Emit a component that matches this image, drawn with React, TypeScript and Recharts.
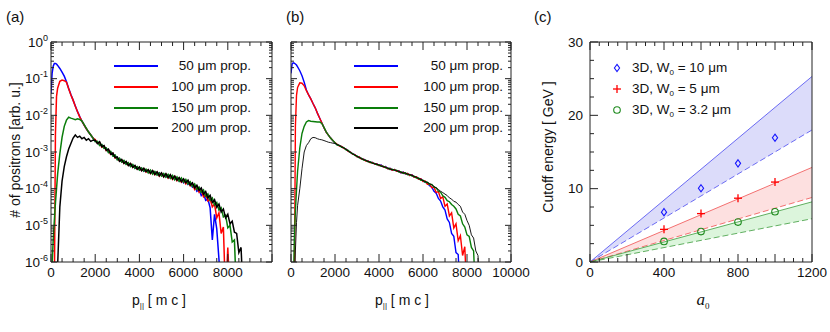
import React from 'react';
import { LineChart, Line, XAxis, YAxis, ComposedChart, Area, Scatter } from 'recharts';

const FONT = '"Liberation Sans", Arial, Helvetica, sans-serif';
const AXIS = '#222';

// momentum grid p|| [m c]
const pEarly = [0, 50, 100, 150, 200, 250, 300, 400, 500, 600, 700, 800, 900, 1000, 1100, 1200, 1300, 1400, 1500, 1600, 1700, 1800, 1900];
const pTail = [
  2000, 2100, 2200, 2300, 2400, 2500, 2600, 2700, 2800, 2900,
  3000, 3100, 3200, 3300, 3400, 3500, 3600, 3700, 3800, 3900,
  4000, 4100, 4200, 4300, 4400, 4500, 4600, 4700, 4800, 4900,
  5000, 5100, 5200, 5300, 5400, 5500, 5600, 5700, 5800, 5900,
  6000, 6100, 6200, 6300, 6400, 6500, 6600, 6700, 6800, 6900,
  7000, 7100, 7200, 7300, 7400, 7500, 7600, 7700, 7800, 7900,
  8000, 8100, 8200, 8300, 8400, 8500, 8600, 8700, 8800,
];

// panel (a)
const blueAEarly = [0.04, 0.14, 0.22, 0.26, 0.26, 0.25, 0.23, 0.19, 0.15, 0.117, 0.083, 0.054, 0.037, 0.026, 0.018, 0.0126, 0.0092, 0.0069, 0.0054, 0.0043, 0.0035, 0.0029, 0.0024];
const redAEarly = [null, null, null, 1e-7, 0.003, 0.033, 0.055, 0.085, 0.092, 0.088, 0.08, 0.053, 0.036, 0.026, 0.0178, 0.0125, 0.0091, 0.0069, 0.0054, 0.0043, 0.0035, 0.0029, 0.0024];
const greenAEarly = [null, 8e-7, 4e-6, 1.3e-5, 4e-5, 1e-4, 2.5e-4, 9e-4, 2.5e-3, 5e-3, 7.4e-3, 8.9e-3, 8.4e-3, 8.0e-3, 7.6e-3, 8.0e-3, 7.7e-3, 7.0e-3, 5.6e-3, 4.4e-3, 3.5e-3, 2.9e-3, 2.4e-3];
const blackAEarly = [null, null, null, null, null, null, 8e-7, 3.2e-5, 1.6e-4, 4e-4, 7.4e-4, 1.2e-3, 1.7e-3, 2.4e-3, 2.9e-3, 2.5e-3, 2.7e-3, 2.3e-3, 2.5e-3, 2.1e-3, 2.3e-3, 1.95e-3, 2.1e-3];

const blueATail = [
  2.0e-3, 1.85e-3, 1.6e-3, 1.55e-3, 1.3e-3, 1.25e-3, 1.0e-3, 1.0e-3, 8.0e-4, 8.0e-4,
  6.3e-4, 6.5e-4, 5.4e-4, 5.7e-4, 4.7e-4, 4.9e-4, 4.1e-4, 4.4e-4, 3.6e-4, 3.9e-4,
  3.3e-4, 3.6e-4, 3.0e-4, 3.3e-4, 2.8e-4, 3.1e-4, 2.6e-4, 2.9e-4, 2.4e-4, 2.7e-4,
  2.25e-4, 2.5e-4, 2.1e-4, 2.35e-4, 1.95e-4, 2.2e-4, 1.8e-4, 2.0e-4, 1.6e-4, 1.8e-4,
  1.45e-4, 1.65e-4, 1.3e-4, 1.45e-4, 1.1e-4, 1.2e-4, 8.5e-5, 9.5e-5, 6.5e-5, 7.5e-5,
  4.8e-5, 5.2e-5, 3.0e-5, 4e-6, 2.0e-5, 8e-6, 1.2e-6, 1e-7, null, null,
  null, null, null, null, null, null, null, null, null,
];
const redATail = [
  2.2e-3, 1.75e-3, 1.8e-3, 1.35e-3, 1.45e-3, 1.1e-3, 1.15e-3, 8.6e-4, 9.2e-4, 6.9e-4,
  7.0e-4, 5.7e-4, 6.1e-4, 4.9e-4, 5.4e-4, 4.3e-4, 4.8e-4, 3.8e-4, 4.2e-4, 3.4e-4,
  3.8e-4, 3.1e-4, 3.5e-4, 2.85e-4, 3.25e-4, 2.6e-4, 3.05e-4, 2.4e-4, 2.85e-4, 2.2e-4,
  2.65e-4, 2.1e-4, 2.5e-4, 1.95e-4, 2.35e-4, 1.8e-4, 2.15e-4, 1.65e-4, 1.95e-4, 1.5e-4,
  1.75e-4, 1.35e-4, 1.6e-4, 1.2e-4, 1.35e-4, 9.5e-5, 1.15e-4, 8.0e-5, 9.0e-5, 6.0e-5,
  7.0e-5, 4.6e-5, 5.2e-5, 3.2e-5, 3.8e-5, 1.6e-5, 2.2e-5, 6e-6, 9e-6, 1e-7,
  2.5e-6, 1e-7, null, null, null, null, null, null, null,
];
const greenATail = [
  1.9e-3, 1.95e-3, 1.5e-3, 1.6e-3, 1.25e-3, 1.3e-3, 9.6e-4, 1.05e-3, 7.8e-4, 8.3e-4,
  6.1e-4, 6.8e-4, 5.3e-4, 5.9e-4, 4.6e-4, 5.1e-4, 4.0e-4, 4.6e-4, 3.6e-4, 4.0e-4,
  3.2e-4, 3.7e-4, 3.0e-4, 3.4e-4, 2.7e-4, 3.2e-4, 2.5e-4, 2.95e-4, 2.35e-4, 2.7e-4,
  2.2e-4, 2.6e-4, 2.05e-4, 2.45e-4, 1.9e-4, 2.3e-4, 1.75e-4, 2.1e-4, 1.6e-4, 1.95e-4,
  1.5e-4, 1.8e-4, 1.35e-4, 1.55e-4, 1.15e-4, 1.35e-4, 9.6e-5, 1.1e-4, 7.9e-5, 9.2e-5,
  6.2e-5, 7.2e-5, 4.8e-5, 5.6e-5, 3.6e-5, 4.2e-5, 2.6e-5, 3.0e-5, 1.7e-5, 1.9e-5,
  8.5e-6, 1.0e-5, 3.5e-6, 4.0e-6, 1e-7, null, null, null, null,
];
const blackATail = [
  2.1e-3, 1.7e-3, 1.9e-3, 1.4e-3, 1.5e-3, 1.1e-3, 1.2e-3, 8.8e-4, 9.4e-4, 7.0e-4,
  7.3e-4, 5.6e-4, 6.3e-4, 4.9e-4, 5.5e-4, 4.3e-4, 4.9e-4, 3.8e-4, 4.3e-4, 3.4e-4,
  3.9e-4, 3.1e-4, 3.6e-4, 2.9e-4, 3.3e-4, 2.6e-4, 3.1e-4, 2.45e-4, 2.9e-4, 2.25e-4,
  2.7e-4, 2.1e-4, 2.55e-4, 2.0e-4, 2.4e-4, 1.85e-4, 2.2e-4, 1.7e-4, 2.0e-4, 1.55e-4,
  1.85e-4, 1.45e-4, 1.7e-4, 1.25e-4, 1.45e-4, 1.05e-4, 1.25e-4, 9.0e-5, 1.05e-4, 7.0e-5,
  8.3e-5, 5.6e-5, 6.6e-5, 4.2e-5, 5.0e-5, 3.1e-5, 3.8e-5, 2.3e-5, 2.8e-5, 1.6e-5,
  2.0e-5, 1.1e-5, 1.3e-5, 6.5e-6, 6.0e-6, 1.8e-6, 2.5e-6, 1e-7, null,
];

// panel (b)
const blueBEarly = [0.14, 0.25, 0.27, 0.265, 0.25, 0.235, 0.21, 0.165, 0.12, 0.08, 0.049, 0.036, 0.028, 0.021, 0.016, 0.0115, 0.0085, 0.0063, 0.0046, 0.0035, 0.0029, 0.0024, 0.00205];
const redBEarly = [null, null, null, 1e-7, 0.005, 0.035, 0.058, 0.077, 0.075, 0.064, 0.047, 0.036, 0.028, 0.021, 0.016, 0.0115, 0.0085, 0.0063, 0.0046, 0.0035, 0.0029, 0.0024, 0.00205];
const greenBEarly = [null, null, 1e-7, 4e-6, 2.5e-5, 9e-5, 3e-4, 1.3e-3, 3.2e-3, 5.0e-3, 6.6e-3, 7.2e-3, 6.9e-3, 6.8e-3, 6.7e-3, 6.6e-3, 6.6e-3, 6.0e-3, 4.7e-3, 3.55e-3, 2.9e-3, 2.4e-3, 2.05e-3];
const blackBEarly = [null, null, null, 1e-7, 2e-6, 1.2e-5, 3.5e-5, 1e-4, 3.5e-4, 1.0e-3, 1.5e-3, 1.8e-3, 2.3e-3, 2.5e-3, 2.45e-3, 2.3e-3, 2.2e-3, 2.15e-3, 2.05e-3, 1.95e-3, 1.85e-3, 1.8e-3, 1.74e-3];

const blueBTail = [
  1.76e-3, 1.6e-3, 1.5e-3, 1.4e-3, 1.28e-3, 1.2e-3, 1.06e-3, 1.0e-3, 8.8e-4, 8.5e-4,
  7.5e-4, 7.3e-4, 6.5e-4, 6.4e-4, 5.8e-4, 5.7e-4, 5.2e-4, 5.2e-4, 4.7e-4, 4.8e-4,
  4.3e-4, 4.4e-4, 3.9e-4, 4.0e-4, 3.5e-4, 3.6e-4, 3.2e-4, 3.35e-4, 3.0e-4, 3.1e-4,
  2.7e-4, 2.85e-4, 2.5e-4, 2.6e-4, 2.3e-4, 2.4e-4, 2.05e-4, 2.1e-4, 1.8e-4, 1.85e-4,
  1.6e-4, 1.5e-4, 1.4e-4, 1.2e-4, 1.1e-4, 8.5e-5, 7.5e-5, 5.4e-5, 4.6e-5, 3.2e-5,
  2.6e-5, 1.5e-5, 1.2e-5, 6e-6, 5e-6, 1.8e-6, 1.6e-6, 1e-7, null, null,
  null, null, null, null, null, null, null, null, null,
];
const redBTail = [
  1.8e-3, 1.62e-3, 1.46e-3, 1.42e-3, 1.26e-3, 1.2e-3, 1.04e-3, 1.0e-3, 8.7e-4, 8.5e-4,
  7.4e-4, 7.3e-4, 6.4e-4, 6.4e-4, 5.7e-4, 5.7e-4, 5.1e-4, 5.2e-4, 4.7e-4, 4.75e-4,
  4.3e-4, 4.3e-4, 3.9e-4, 3.9e-4, 3.5e-4, 3.55e-4, 3.2e-4, 3.35e-4, 3.0e-4, 3.05e-4,
  2.7e-4, 2.8e-4, 2.55e-4, 2.6e-4, 2.3e-4, 2.35e-4, 2.05e-4, 2.1e-4, 1.8e-4, 1.85e-4,
  1.58e-4, 1.62e-4, 1.32e-4, 1.34e-4, 1.06e-4, 1.1e-4, 7.8e-5, 8.4e-5, 5.4e-5, 6.0e-5,
  3.3e-5, 3.8e-5, 1.8e-5, 2.2e-5, 8.5e-6, 1.1e-5, 3.8e-6, 5.2e-6, 1.5e-6, 2.6e-6,
  1e-7, null, null, null, null, null, null, null, null,
];
const greenBTail = [
  1.78e-3, 1.55e-3, 1.52e-3, 1.35e-3, 1.32e-3, 1.15e-3, 1.1e-3, 9.6e-4, 9.1e-4, 8.1e-4,
  7.8e-4, 6.9e-4, 6.8e-4, 6.0e-4, 6.0e-4, 5.4e-4, 5.4e-4, 4.9e-4, 4.9e-4, 4.5e-4,
  4.5e-4, 4.05e-4, 4.1e-4, 3.7e-4, 3.7e-4, 3.35e-4, 3.4e-4, 3.15e-4, 3.2e-4, 2.85e-4,
  2.9e-4, 2.6e-4, 2.7e-4, 2.4e-4, 2.45e-4, 2.2e-4, 2.2e-4, 1.95e-4, 1.95e-4, 1.7e-4,
  1.7e-4, 1.5e-4, 1.5e-4, 1.3e-4, 1.3e-4, 1.1e-4, 1.05e-4, 8.6e-5, 8.0e-5, 6.4e-5,
  5.8e-5, 4.7e-5, 4.4e-5, 3.7e-5, 3.3e-5, 2.8e-5, 2.0e-5, 1.8e-5, 1.1e-5, 9e-6,
  5.5e-6, 5.0e-6, 2.5e-6, 2.0e-6, 1e-7, null, null, null, null,
];
const blackBTail = [
  1.72e-3, 1.6e-3, 1.5e-3, 1.38e-3, 1.3e-3, 1.18e-3, 1.07e-3, 9.8e-4, 8.9e-4, 8.3e-4,
  7.6e-4, 7.1e-4, 6.6e-4, 6.2e-4, 5.9e-4, 5.5e-4, 5.25e-4, 5.0e-4, 4.8e-4, 4.6e-4,
  4.4e-4, 4.15e-4, 4.0e-4, 3.8e-4, 3.6e-4, 3.45e-4, 3.3e-4, 3.25e-4, 3.1e-4, 2.95e-4,
  2.8e-4, 2.7e-4, 2.65e-4, 2.5e-4, 2.4e-4, 2.3e-4, 2.15e-4, 2.05e-4, 1.9e-4, 1.8e-4,
  1.66e-4, 1.58e-4, 1.48e-4, 1.38e-4, 1.28e-4, 1.15e-4, 1.05e-4, 9.5e-5, 8.5e-5, 7.8e-5,
  7.1e-5, 6.5e-5, 5.6e-5, 5.2e-5, 4.5e-5, 4.3e-5, 3.7e-5, 3.3e-5, 2.3e-5, 2.0e-5,
  1.35e-5, 1.0e-5, 5.5e-6, 4.5e-6, 2.0e-6, 1.5e-6, 1e-7, null, null,
];

const legendLabels = ['50 μm prop.', '100 μm prop.', '150 μm prop.', '200 μm prop.'];
const seriesColors = ['#0000ff', '#ff0000', '#0a7d0a', '#000000'];

// panel (c)
const a0Ends = [0, 1200];
const hi10 = [0, 25.3];
const lo10 = [0, 18.0];
const hi5 = [0, 12.9];
const lo5 = [0, 8.8];
const hi32 = [0, 8.2];
const lo32 = [0, 5.9];
const a0Points = [400, 600, 800, 1000];
const cut10 = [6.8, 10.05, 13.45, 16.95];
const cut5 = [4.45, 6.6, 8.7, 10.9];
const cut32 = [2.8, 4.15, 5.45, 6.85];

// ticks
const pTicks = [0, 500, 1000, 1500, 2000, 2500, 3000, 3500, 4000, 4500, 5000, 5500, 6000, 6500, 7000, 7500, 8000, 8500, 9000, 9500, 10000];
const pLabelsA = [0, 2000, 4000, 6000, 8000];
const pLabelsB = [0, 2000, 4000, 6000, 8000, 10000];
const decades = [1e-6, 1e-5, 1e-4, 1e-3, 1e-2, 1e-1, 1];
const logTicks = decades.flatMap((d, i) =>
  i === decades.length - 1 ? [d] : [1, 2, 3, 4, 5, 6, 7, 8, 9].map((m) => m * d)
);
const a0Ticks = [0, 50, 100, 150, 200, 250, 300, 350, 400, 450, 500, 550, 600, 650, 700, 750, 800, 850, 900, 950, 1000, 1050, 1100, 1150, 1200];
const a0Labels = [0, 400, 800, 1200];
const eTicks = [0, 2.5, 5, 7.5, 10, 12.5, 15, 17.5, 20, 22.5, 25, 27.5, 30];
const eLabels = [0, 10, 20, 30];

const toRows = (early: (number | null)[], tail: (number | null)[]) =>
  [...pEarly, ...pTail].map((p, i) => ({
    p,
    v: i < pEarly.length ? early[i] : tail[i - pEarly.length],
  }));

const isDecade = (v: number) => Math.abs(Math.log10(v) - Math.round(Math.log10(v))) < 1e-6;

type Side = 'bottom' | 'top' | 'left' | 'right';

function axisTick(
  side: Side,
  isMajor: (v: number) => boolean,
  major: number,
  minor: number,
  label?: (v: number) => React.ReactNode,
  gap = 3
) {
  return (props: any) => {
    const { x, y, payload } = props;
    const v = payload.value;
    const len = isMajor(v) ? major : minor;
    let l = { x1: x, y1: y, x2: x, y2: y };
    if (side === 'bottom') l = { x1: x, y1: y, x2: x, y2: y - len };
    if (side === 'top') l = { x1: x, y1: y, x2: x, y2: y + len };
    if (side === 'left') l = { x1: x, y1: y, x2: x + len, y2: y };
    if (side === 'right') l = { x1: x, y1: y, x2: x - len, y2: y };
    const lab = label ? label(v) : null;
    return (
      <g>
        <line {...l} stroke={AXIS} strokeWidth={1} />
        {lab != null && side === 'bottom' && (
          <text x={x} y={y + 15} textAnchor="middle" fontSize={13.5} fontFamily={FONT} fill="#111">
            {lab}
          </text>
        )}
        {lab != null && side === 'left' && (
          <text x={x - gap} y={y + 4.5} textAnchor="end" fontSize={13.5} fontFamily={FONT} fill="#111">
            {lab}
          </text>
        )}
      </g>
    );
  };
}

const decadeLabel = (v: number) =>
  isDecade(v) ? (
    <>
      10<tspan dy={-6} fontSize={9}>{Math.round(Math.log10(v))}</tspan>
    </>
  ) : null;

// axes get 1px of room: recharts skips drawing an axis of zero size
const axisBits = { tickSize: 0, tickMargin: 0, tickLine: false, axisLine: { stroke: AXIS }, interval: 0 as const };

function Spectrum({ left, series, xLabels, yLabels, thin }: any) {
  const pMajor = (v: number) => v % 2000 === 0;
  const first = left === 0;
  return (
    <div style={{ position: 'absolute', left, top: 0 }}>
      <LineChart width={280} height={332} margin={{ top: 41, bottom: 69, left: first ? 50 : 10, right: first ? 7 : 48 }}>
        <XAxis xAxisId="b" dataKey="p" type="number" domain={[0, 10000]} ticks={pTicks} height={1} allowDataOverflow {...axisBits}
          tick={axisTick('bottom', pMajor, 8, 4, (v) => (xLabels.includes(v) ? String(v) : null))} />
        <XAxis xAxisId="t" orientation="top" dataKey="p" type="number" domain={[0, 10000]} ticks={pTicks} height={1} allowDataOverflow {...axisBits}
          tick={axisTick('top', pMajor, 8, 4)} />
        <YAxis yAxisId="l" type="number" scale="log" domain={[1e-6, 1]} ticks={logTicks} width={1} allowDataOverflow {...axisBits}
          tick={axisTick('left', isDecade, 6, 3, yLabels ? decadeLabel : undefined)} />
        <YAxis yAxisId="r" orientation="right" type="number" scale="log" domain={[1e-6, 1]} ticks={logTicks} width={1} allowDataOverflow {...axisBits}
          tick={axisTick('right', isDecade, 6, 3)} />
        {series.map((s: any, i: number) => (
          <Line key={i} xAxisId="b" yAxisId="l" data={s} dataKey="v" type="linear" dot={false} activeDot={false}
            stroke={seriesColors[i]} strokeWidth={thin ? (i === 3 ? 0.9 : 1.4) : 1.5} isAnimationActive={false} />
        ))}
      </LineChart>
    </div>
  );
}

const Diamond = (p: any) => (
  <polygon points={`${p.cx},${p.cy - 3.6} ${p.cx + 2.6},${p.cy} ${p.cx},${p.cy + 3.6} ${p.cx - 2.6},${p.cy}`}
    fill="none" stroke="#1515ff" strokeWidth={1.1} />
);
const Plus = (p: any) => (
  <g stroke="#ff0000" strokeWidth={1.3}>
    <line x1={p.cx - 4} y1={p.cy} x2={p.cx + 4} y2={p.cy} />
    <line x1={p.cx} y1={p.cy - 4} x2={p.cx} y2={p.cy + 4} />
  </g>
);
const Ring = (p: any) => <circle cx={p.cx} cy={p.cy} r={3.3} fill="none" stroke="#1d8a1d" strokeWidth={1.1} />;

function Cutoff() {
  const rows = a0Ends.map((a, i) => ({
    a,
    hi10: hi10[i], lo10: lo10[i], band10: [lo10[i], hi10[i]],
    hi5: hi5[i], lo5: lo5[i], band5: [lo5[i], hi5[i]],
    hi32: hi32[i], lo32: lo32[i], band32: [lo32[i], hi32[i]],
  }));
  const pts = (vals: number[]) => a0Points.map((a, i) => ({ a, e: vals[i] }));
  const aMajor = (v: number) => v % 200 === 0;
  const eMajor = (v: number) => v % 10 === 0;
  return (
    <div style={{ position: 'absolute', left: 560, top: 0 }}>
      <ComposedChart width={270} height={332} data={rows} margin={{ top: 41, bottom: 69, left: 29, right: 17 }}>
        <XAxis xAxisId="b" dataKey="a" type="number" domain={[0, 1200]} ticks={a0Ticks} height={1} {...axisBits}
          tick={axisTick('bottom', aMajor, 8, 4, (v) => (a0Labels.includes(v) ? String(v) : null))} />
        <XAxis xAxisId="t" orientation="top" dataKey="a" type="number" domain={[0, 1200]} ticks={a0Ticks} height={1} {...axisBits}
          tick={axisTick('top', aMajor, 8, 4)} />
        <YAxis yAxisId="l" type="number" domain={[0, 30]} ticks={eTicks} width={1} {...axisBits}
          tick={axisTick('left', eMajor, 8, 4, (v) => (eLabels.includes(v) ? String(v) : null), 7)} />
        <YAxis yAxisId="r" orientation="right" type="number" domain={[0, 30]} ticks={eTicks} width={1} {...axisBits}
          tick={axisTick('right', eMajor, 8, 4)} />
        <Area xAxisId="b" yAxisId="l" dataKey="band10" type="linear" fill="#dcdcfa" fillOpacity={1} stroke="none" isAnimationActive={false} />
        <Area xAxisId="b" yAxisId="l" dataKey="band5" type="linear" fill="#fde0e0" fillOpacity={1} stroke="none" isAnimationActive={false} />
        <Area xAxisId="b" yAxisId="l" dataKey="band32" type="linear" fill="#dcf5dc" fillOpacity={1} stroke="none" isAnimationActive={false} />
        <Line xAxisId="b" yAxisId="l" dataKey="hi10" stroke="#4a4af0" strokeWidth={0.8} dot={false} activeDot={false} isAnimationActive={false} />
        <Line xAxisId="b" yAxisId="l" dataKey="lo10" stroke="#4a4af0" strokeWidth={0.8} strokeDasharray="6 3" dot={false} activeDot={false} isAnimationActive={false} />
        <Line xAxisId="b" yAxisId="l" dataKey="hi5" stroke="#f05050" strokeWidth={0.8} dot={false} activeDot={false} isAnimationActive={false} />
        <Line xAxisId="b" yAxisId="l" dataKey="lo5" stroke="#f05050" strokeWidth={0.8} strokeDasharray="6 3" dot={false} activeDot={false} isAnimationActive={false} />
        <Line xAxisId="b" yAxisId="l" dataKey="hi32" stroke="#3c9c3c" strokeWidth={0.8} dot={false} activeDot={false} isAnimationActive={false} />
        <Line xAxisId="b" yAxisId="l" dataKey="lo32" stroke="#3c9c3c" strokeWidth={0.8} strokeDasharray="6 3" dot={false} activeDot={false} isAnimationActive={false} />
        <Scatter xAxisId="b" yAxisId="l" data={pts(cut10)} dataKey="e" shape={Diamond} isAnimationActive={false} />
        <Scatter xAxisId="b" yAxisId="l" data={pts(cut5)} dataKey="e" shape={Plus} isAnimationActive={false} />
        <Scatter xAxisId="b" yAxisId="l" data={pts(cut32)} dataKey="e" shape={Ring} isAnimationActive={false} />
      </ComposedChart>
    </div>
  );
}

const txt = (left: number, top: number, extra: React.CSSProperties = {}): React.CSSProperties => ({
  position: 'absolute', left, top, fontFamily: FONT, fontSize: 14, color: '#111', whiteSpace: 'nowrap', lineHeight: '18px', ...extra,
});

function SpecLegend({ x0, textRight }: { x0: number; textRight: number }) {
  const rowsY = [66, 87, 108, 128];
  return (
    <>
      {legendLabels.map((lab, i) => (
        <React.Fragment key={lab}>
          <div style={{ position: 'absolute', left: x0, top: rowsY[i] - 0.75, width: 44, height: 1.5, background: seriesColors[i] }} />
          <div style={txt(textRight - 100, rowsY[i] - 9, { width: 100, textAlign: 'right', fontSize: 13.5 })}>{lab}</div>
        </React.Fragment>
      ))}
    </>
  );
}

export default function App() {
  const seriesA = [toRows(blueAEarly, blueATail), toRows(redAEarly, redATail), toRows(greenAEarly, greenATail), toRows(blackAEarly, blackATail)];
  const seriesB = [toRows(blueBEarly, blueBTail), toRows(redBEarly, redBTail), toRows(greenBEarly, greenBTail), toRows(blackBEarly, blackBTail)];
  const cLegend = [
    { y: 68, w: '10', mark: <polygon points="5,1.4 7.6,5 5,8.6 2.4,5" fill="none" stroke="#1515ff" strokeWidth={1.1} /> },
    { y: 89, w: '5', mark: <g stroke="#ff0000" strokeWidth={1.3}><line x1={1} y1={5} x2={9} y2={5} /><line x1={5} y1={1} x2={5} y2={9} /></g> },
    { y: 110, w: '3.2', mark: <circle cx={5} cy={5} r={3.3} fill="none" stroke="#1d8a1d" strokeWidth={1.1} /> },
  ];
  return (
    <div style={{ position: 'absolute', left: 0, top: 0, width: 830, height: 332, background: '#fff', overflow: 'hidden' }}>
      <Spectrum left={0} series={seriesA} xLabels={pLabelsA} yLabels />
      <Spectrum left={280} series={seriesB} xLabels={pLabelsB} yLabels={false} thin />
      <Cutoff />

      <div style={txt(6, 8, { fontSize: 15 })}>(a)</div>
      <div style={txt(286, 8, { fontSize: 15 })}>(b)</div>
      <div style={txt(534, 8, { fontSize: 15 })}>(c)</div>

      <SpecLegend x0={114} textRight={251} />
      <SpecLegend x0={354} textRight={503} />

      {cLegend.map((r) => (
        <React.Fragment key={r.w}>
          <svg width={10} height={10} style={{ position: 'absolute', left: 612, top: r.y - 5 }}>{r.mark}</svg>
          <div style={txt(632, r.y - 9, { fontSize: 13.5 })}>
            3D, W<sub style={{ fontSize: 8, verticalAlign: '-3px' }}>0</sub> = {r.w} μm
          </div>
        </React.Fragment>
      ))}

      <div style={txt(15, 150, { transform: 'translate(-50%, -50%) rotate(-90deg)' })}># of positrons [arb. u.]</div>
      <div style={txt(548, 147, { transform: 'translate(-50%, -50%) rotate(-90deg)' })}>Cutoff energy [ GeV ]</div>

      <div style={txt(159, 303, { transform: 'translate(-50%, -50%)' })}>
        p<sub style={{ fontSize: 8, verticalAlign: '-3px' }}>||</sub> [ m c ]
      </div>
      <div style={txt(402, 303, { transform: 'translate(-50%, -50%)' })}>
        p<sub style={{ fontSize: 8, verticalAlign: '-3px' }}>||</sub> [ m c ]
      </div>
      <div style={txt(703, 303, { transform: 'translate(-50%, -50%)', fontFamily: '"Liberation Serif", "DejaVu Serif", serif', fontSize: 17 })}>
        <i>a</i><sub style={{ fontSize: 9, verticalAlign: '-4px' }}>0</sub>
      </div>
    </div>
  );
}
